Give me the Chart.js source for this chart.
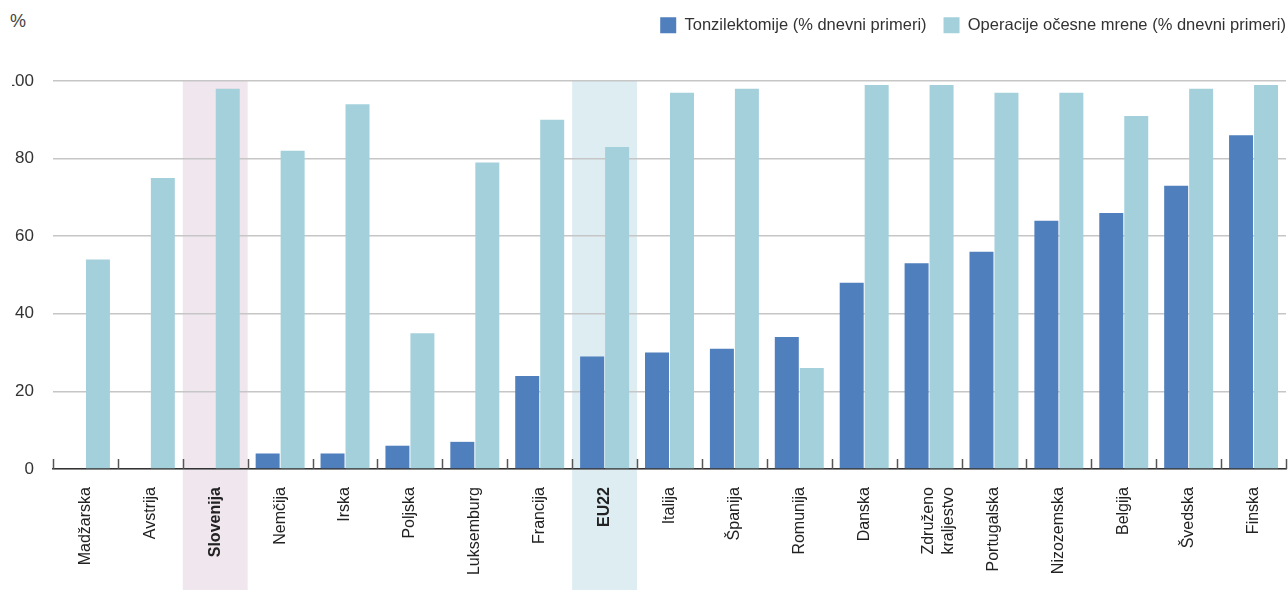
<!DOCTYPE html>
<html>
<head>
<meta charset="utf-8">
<script src="https://cdn.jsdelivr.net/npm/chart.js@4.4.0/dist/chart.umd.min.js"></script>
<style>
  body { margin: 0; background: #fff; overflow: hidden; }
  #wrap { position: relative; width: 1288px; height: 590px; overflow: hidden; }
  #unit { position: absolute; left: 10px; top: 11px; font: 18px 'Liberation Sans', sans-serif; color: #444; }
  canvas { position: absolute; left: 12px; top: 0; }
</style>
</head>
<body>
<div id="wrap">
  <div id="unit">%</div>
  <canvas id="c" width="1276" height="590"></canvas>
</div>
<script>
// ── Données ───────────────────────────────────────────────────────────────
const countries = [
  'Madžarska', 'Avstrija', 'Slovenija', 'Nemčija', 'Irska', 'Poljska', 'Luksemburg',
  'Francija', 'EU22', 'Italija', 'Španija', 'Romunija', 'Danska', ['Združeno', 'kraljestvo'],
  'Portugalska', 'Nizozemska', 'Belgija', 'Švedska', 'Finska',
];
const tonsillectomy = [null, null, null, 4, 4, 6, 7, 24, 29, 30, 31, 34, 48, 53, 56, 64, 66, 73, 86];
const cataract = [54, 75, 98, 82, 94, 35, 79, 90, 83, 97, 98, 26, 99, 99, 97, 97, 91, 98, 99];
const Y_MIN = 0;
const Y_MAX = 100;
const Y_STEP = 20;
const HIGHLIGHT = { 2: '#f0e6ee', 8: '#ddedf2' };   // Slovenija, EU22

const SANS = "'Liberation Sans', Arial, sans-serif";

// ── Plugins ───────────────────────────────────────────────────────────────

// Bandes de fond derrière Slovenija et EU22
const bands = {
  id: 'bands',
  beforeDraw(chart) {
    const { ctx, chartArea, scales } = chart;
    const half = scales.x.width / countries.length / 2;
    ctx.save();
    Object.entries(HIGHLIGHT).forEach(([i, color]) => {
      const px = scales.x.getPixelForValue(Number(i));
      ctx.fillStyle = color;
      ctx.fillRect(px - half, chartArea.top, half * 2, chart.height - chartArea.top);
    });
    ctx.restore();
  },
};

// Petits traits vers le haut entre les catégories
const upTicks = {
  id: 'upTicks',
  afterDraw(chart) {
    const { ctx, scales } = chart;
    const x = scales.x;
    const step = x.width / countries.length;
    const y0 = chart.chartArea.bottom;
    ctx.save();
    ctx.strokeStyle = '#555';
    ctx.lineWidth = 1.5;
    for (let i = 0; i <= countries.length; i++) {
      const px = Math.round(x.left + i * step) + 0.5;
      ctx.beginPath();
      ctx.moveTo(px, y0);
      ctx.lineTo(px, y0 - 10);
      ctx.stroke();
    }
    ctx.restore();
  },
};

// Hauteur fixe de la légende -> haut de la zone de tracé ; légende collée à droite
const legendSpace = {
  id: 'legendSpace',
  beforeInit(chart) {
    const fit = chart.legend.fit;
    chart.legend.fit = function () {
      fit.call(this);
      this.height = 81;
    };
  },
  afterLayout(chart) {
    chart.legend.left += 17;
    chart.legend.right += 17;
  },
};

// ── Graphique ─────────────────────────────────────────────────────────────
new Chart(document.getElementById('c'), {
  type: 'bar',
  plugins: [bands, upTicks, legendSpace],
  data: {
    labels: countries,
    datasets: [
      {
        label: 'Tonzilektomije (% dnevni primeri)',
        data: tonsillectomy,
        backgroundColor: '#4f7fbd',
        categoryPercentage: 0.77,
        barPercentage: 0.96,
      },
      {
        label: 'Operacije očesne mrene (% dnevni primeri)',
        data: cataract,
        backgroundColor: '#a3d0db',
        categoryPercentage: 0.77,
        barPercentage: 0.96,
      },
    ],
  },
  options: {
    responsive: false,
    animation: false,
    layout: { padding: { top: 0, right: 2, left: 0, bottom: 0 } },
    plugins: {
      legend: {
        position: 'top',
        align: 'end',
        labels: {
          boxWidth: 16,
          boxHeight: 16,
          padding: 17,
          color: '#333',
          font: { family: SANS, size: 16.5 },
        },
      },
      tooltip: { enabled: false },
    },
    scales: {
      x: {
        grid: { display: false },
        border: { color: '#333', width: 1.5 },
        afterFit: s => { s.height = 121; },
        ticks: {
          autoSkip: false,
          minRotation: 90,
          maxRotation: 90,
          padding: 10,
          color: '#222',
          font: ctx => ({
            family: SANS,
            size: 16,
            weight: (ctx.index === 2 || ctx.index === 8) ? 'bold' : 'normal',
          }),
        },
      },
      y: {
        min: Y_MIN,
        max: Y_MAX,
        afterFit: s => { s.width = 41; },
        border: { display: false },
        grid: { color: '#c6c6c6', lineWidth: 1.5, drawTicks: false },
        ticks: {
          stepSize: Y_STEP,
          padding: 19,
          color: '#333',
          font: { family: SANS, size: 17 },
        },
      },
    },
  },
});
</script>
</body>
</html>
